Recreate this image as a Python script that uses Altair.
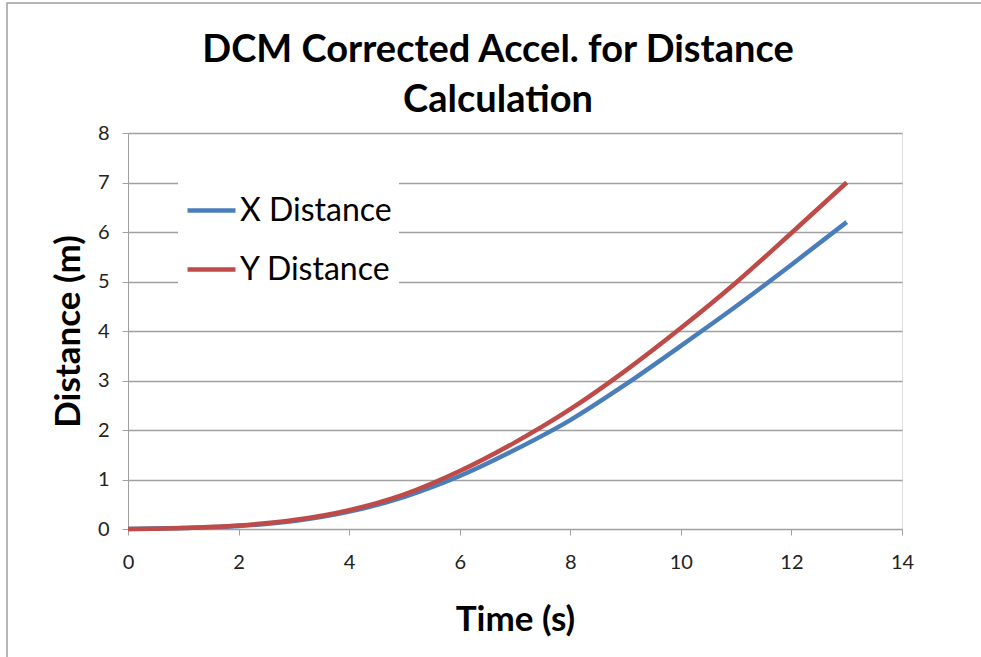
import altair as alt
import pandas as pd

time_s = [0, 1, 2, 3, 4, 5, 6, 7, 8, 9, 10, 11, 12, 13]
x_distance = [0.0, 0.02, 0.06, 0.16, 0.35, 0.65, 1.07, 1.6, 2.2, 2.92, 3.7, 4.5, 5.34, 6.2]
y_distance = [0.0, 0.02, 0.07, 0.18, 0.38, 0.7, 1.17, 1.75, 2.42, 3.2, 4.06, 4.98, 5.98, 7.0]
series_names = ["X Distance", "Y Distance"]
series_colors = ["#4a7ebb", "#be4b48"]
title_lines = ["DCM Corrected Accel. for Distance", "Calculation"]

rows = []
for t, xv, yv in zip(time_s, x_distance, y_distance):
    rows.append({"Time": t, "Distance": xv, "Series": series_names[0]})
    rows.append({"Time": t, "Distance": yv, "Series": series_names[1]})
df = pd.DataFrame(rows)

FONT = "Lato"

lines = alt.Chart(df).mark_line(strokeWidth=4.5, interpolate="monotone").encode(
    x=alt.X("Time:Q", scale=alt.Scale(domain=[0, 14], nice=False),
            axis=alt.Axis(title="Time (s)", values=list(range(0, 15, 2)), grid=False,
                          tickColor="#a0a0a0", domainColor="#a0a0a0", tickSize=6,
                          labelFontSize=20, labelColor="#222", labelPadding=17,
                          labelFlush=False,
                          titleFontSize=35, titleFontWeight="bold", titlePadding=30,
                          titleColor="#000", labelFont=FONT, titleFont=FONT)),
    y=alt.Y("Distance:Q", scale=alt.Scale(domain=[0, 8], nice=False),
            axis=alt.Axis(title="Distance (m)", values=list(range(0, 9)), grid=True,
                          gridColor="#a0a0a0", gridWidth=1.5,
                          tickColor="#a0a0a0", domainColor="#a0a0a0", tickSize=6,
                          labelFontSize=20, labelColor="#222", labelPadding=13,
                          labelFlush=False,
                          titleFontSize=35, titleFontWeight="bold", titlePadding=11,
                          titleColor="#000", labelFont=FONT, titleFont=FONT)),
    color=alt.Color("Series:N", scale=alt.Scale(domain=series_names, range=series_colors),
                    legend=alt.Legend(title=None, orient="none", legendX=50, legendY=44,
                                      symbolType="stroke", symbolSize=2300, symbolStrokeWidth=4.5,
                                      labelFontSize=32, labelFont=FONT, labelColor="#000",
                                      labelOffset=2, rowPadding=16, fillColor="white",
                                      padding=7)),
)

border = alt.Chart(pd.DataFrame({"k": [0]})).mark_rect(fill=None, stroke="#a0a0a0", strokeWidth=1.5).encode(
    x=alt.value(-121), x2=alt.value(960), y=alt.value(-130), y2=alt.value(620)
)

title1 = alt.Chart(pd.DataFrame({"t": [title_lines[0]]})).mark_text(
    font=FONT, fontSize=38, fontWeight="bold", color="#000", align="center", baseline="alphabetic"
).encode(text="t:N", x=alt.value(370), y=alt.value(-71))

title2 = alt.Chart(pd.DataFrame({"t": [title_lines[1]]})).mark_text(
    font=FONT, fontSize=38, fontWeight="bold", color="#000", align="center", baseline="alphabetic"
).encode(text="t:N", x=alt.value(370), y=alt.value(-21))

chart = alt.layer(border, title1, title2, lines).properties(
    width=774, height=396,
    autosize=alt.AutoSizeParams(type="none"),
    padding={"left": 128, "top": 133, "right": 79, "bottom": 128},
).configure_view(stroke=None).configure(background="white")

chart.save("out.html", embed_options={"renderer": "svg", "actions": False})
